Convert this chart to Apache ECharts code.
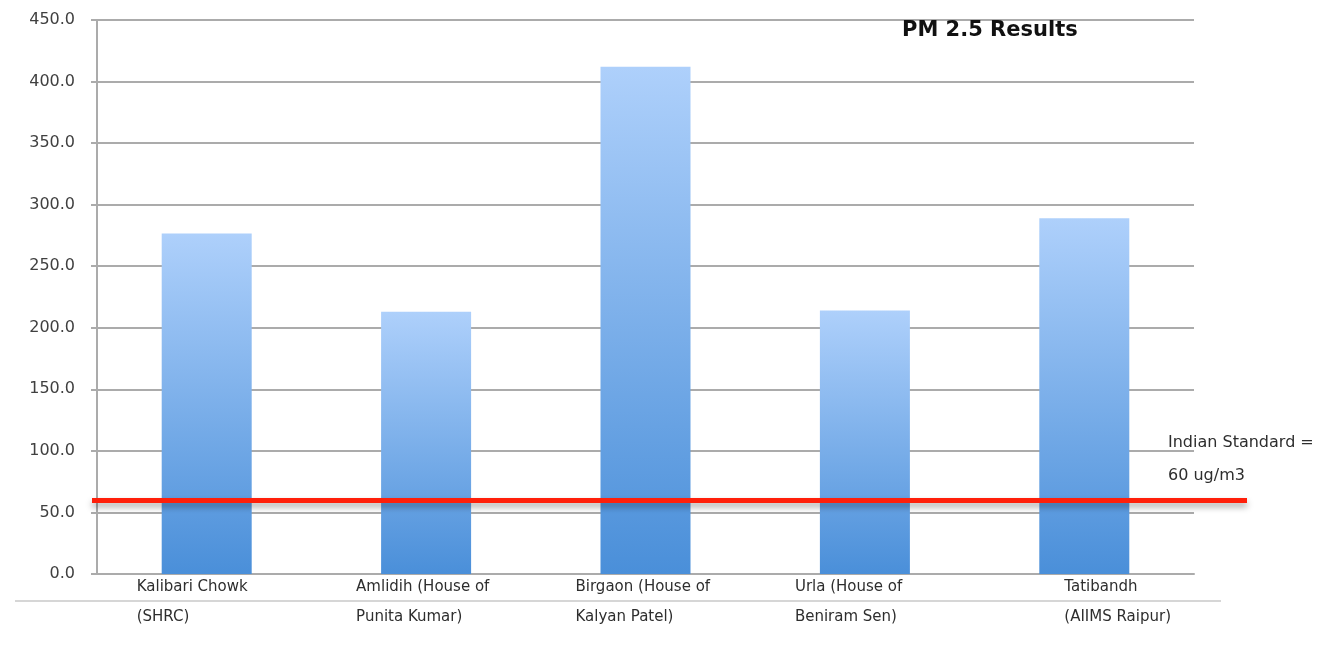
<!DOCTYPE html>
<html>
<head>
<meta charset="utf-8">
<script src="https://cdn.jsdelivr.net/npm/echarts@6/dist/echarts.min.js"></script>
<style>
  html, body { margin: 0; padding: 0; background: #ffffff; }
  #chart { width: 1331px; height: 653px; }
</style>
</head>
<body>
<div id="chart"></div>
<script>
// PM 2.5 measurements by site (ug/m3)
const siteLines = [
  ['Kalibari Chowk', '(SHRC)'],
  ['Amlidih (House of', 'Punita Kumar)'],
  ['Birgaon (House of', 'Kalyan Patel)'],
  ['Urla (House of', 'Beniram Sen)'],
  ['Tatibandh', '(AIIMS Raipur)']
];
const categories = siteLines.map(l => l.join('\n'));
const pm25 = [276.5, 213, 412, 214, 289];
const indianStandard = 60;
const yTicks = { min: 0, max: 450, interval: 50 };

const FONT = '"DejaVu Sans", Verdana, sans-serif';
const chart = echarts.init(document.getElementById('chart'));

chart.setOption({
  animation: false,
  backgroundColor: '#ffffff',
  title: {
    text: 'PM 2.5 Results',
    left: 897,
    top: 15,
    textStyle: { fontFamily: FONT, fontSize: 21, fontWeight: 'bold', color: '#111111' }
  },
  grid: [
    { left: 97, right: 137, top: 20, bottom: 79 },
    { left: 92, right: 84, top: 20, bottom: 79 }
  ],
  xAxis: [
    {
      type: 'category',
      gridIndex: 0,
      data: categories,
      axisLine: { lineStyle: { color: '#ababab', width: 2 } },
      axisTick: { show: false },
      axisLabel: {
        interval: 0,
        margin: -2,
        formatter: function (value, idx) {
          const parts = value.split('\n');
          const key = idx === categories.length - 1 ? 'e' : 'a';
          return parts.map(p => '{' + key + '|' + p + '}').join('\n');
        },
        rich: {
          a: { width: 140, align: 'left', fontFamily: FONT, fontSize: 15, lineHeight: 30, color: '#2e2e2e' },
          e: { width: 40, align: 'left', fontFamily: FONT, fontSize: 15, lineHeight: 30, color: '#2e2e2e' }
        }
      }
    },
    { type: 'category', gridIndex: 1, data: categories, show: false }
  ],
  yAxis: [
    {
      type: 'value',
      gridIndex: 0,
      min: yTicks.min,
      max: yTicks.max,
      interval: yTicks.interval,
      axisLine: { show: true, lineStyle: { color: '#ababab', width: 2 } },
      axisTick: { show: true, length: 6, lineStyle: { color: '#ababab', width: 2 } },
      splitLine: { lineStyle: { color: '#ababab', width: 2 } },
      axisLabel: {
        margin: 22,
        fontFamily: FONT,
        fontSize: 16,
        color: '#404040',
        formatter: v => v.toFixed(1)
      }
    },
    {
      type: 'value', gridIndex: 1, show: false,
      min: yTicks.min, max: yTicks.max, interval: yTicks.interval,
      splitLine: { show: false }
    }
  ],
  series: [
    {
      type: 'bar',
      xAxisIndex: 0,
      yAxisIndex: 0,
      data: pm25,
      barWidth: 90,
      itemStyle: {
        color: new echarts.graphic.LinearGradient(0, 0, 0, 1, [
          { offset: 0, color: '#aed0fb' },
          { offset: 1, color: '#4a8fd9' }
        ])
      }
    },
    {
      type: 'line',
      xAxisIndex: 1,
      yAxisIndex: 1,
      data: [],
      silent: true,
      markLine: {
        symbol: 'none',
        silent: true,
        label: { show: false },
        lineStyle: {
          type: 'solid',
          color: '#ff1f0a',
          width: 5,
          shadowColor: 'rgba(0,0,0,0.35)',
          shadowBlur: 6,
          shadowOffsetY: 4
        },
        data: [{ yAxis: indianStandard }]
      }
    }
  ],
  graphic: [
    {
      type: 'line',
      shape: { x1: 15, y1: 601, x2: 1221, y2: 601 },
      style: { stroke: '#c8c8c8', lineWidth: 1.5 },
      silent: true
    },
    {
      type: 'text',
      left: 1168,
      top: 426,
      style: {
        text: 'Indian Standard =\n' + indianStandard + ' ug/m3',
        font: '16px ' + FONT,
        fill: '#2e2e2e',
        lineHeight: 33
      }
    }
  ]
});
</script>
</body>
</html>
